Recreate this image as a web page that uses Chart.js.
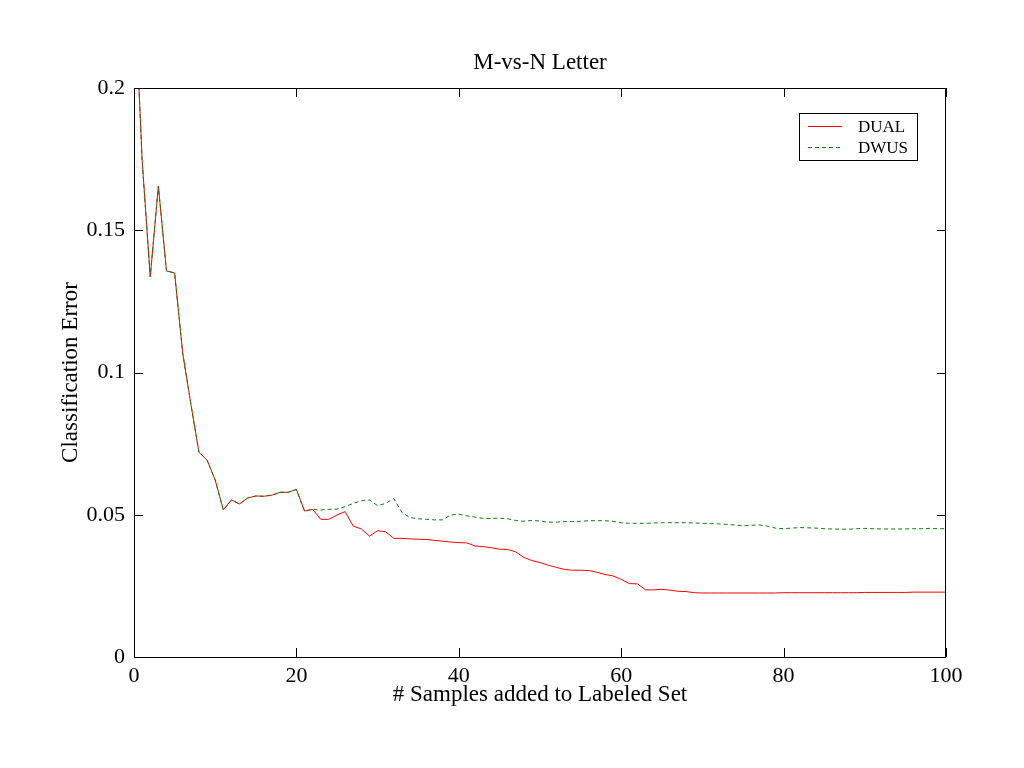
<!DOCTYPE html>
<html lang="en">
<head>
    <meta charset="UTF-8">
    <title>M-vs-N Letter</title>
    <script src="https://cdn.jsdelivr.net/npm/chart.js"></script>
    <style>
        body { margin: 0; background: #fff; }
        #wrap { width: 1024px; height: 768px; }
    </style>
</head>
<body>
    <div id="wrap"><canvas id="grafico" width="1024" height="768"></canvas></div>

    <script>
        // Datos
        const samples = [0,1,2,3,4,5,6,7,8,9,10,11,12,13,14,15,16,17,18,19,20,
            21,22,23,24,25,26,27,28,29,30,31,32,33,34,35,36,37,38,39,40,
            41,42,43,44,45,46,47,48,49,50,51,52,53,54,55,56,57,58,59,60,
            61,62,63,64,65,66,67,68,69,70,71,72,73,74,75,76,77,78,79,80,
            81,82,83,84,85,86,87,88,89,90,91,92,93,94,95,96,97,98,99,100];

        const dual = [0.24,0.1747,0.1336,0.1655,0.1357,0.135,0.1068,0.089,0.072,0.0692,0.0622,
            0.0517,0.0552,0.0538,0.0559,0.0566,0.0565,0.0569,0.0579,0.0579,0.0589,
            0.0513,0.0519,0.0484,0.0484,0.0499,0.0511,0.046,0.045,0.0425,0.0444,
            0.044,0.0417,0.0417,0.0415,0.0414,0.0413,0.041,0.0407,0.0404,0.0402,
            0.0401,0.039,0.0388,0.0384,0.0379,0.0378,0.037,0.035,0.0339,0.0332,
            0.0323,0.0315,0.0308,0.0305,0.0305,0.0304,0.0298,0.029,0.0285,0.0273,
            0.0258,0.0257,0.0236,0.0236,0.0238,0.0235,0.0231,0.023,0.0226,0.0225,
            0.0225,0.0225,0.0225,0.0225,0.0225,0.0225,0.0225,0.0225,0.0225,0.0226,
            0.0226,0.0226,0.0226,0.0226,0.0226,0.0226,0.0226,0.0226,0.0226,0.0227,
            0.0227,0.0227,0.0227,0.0227,0.0227,0.0228,0.0228,0.0228,0.0228,0.0228];

        const dwus = [0.24,0.1747,0.1336,0.1655,0.1357,0.135,0.1068,0.089,0.072,0.0692,0.0622,
            0.0517,0.0552,0.0538,0.0559,0.0566,0.0565,0.0569,0.0579,0.0579,0.0589,
            0.0513,0.0519,0.0517,0.0519,0.052,0.0528,0.054,0.0549,0.0552,0.0532,
            0.054,0.0557,0.0508,0.049,0.0486,0.0484,0.0482,0.0482,0.0499,0.0502,
            0.0496,0.0492,0.0487,0.0487,0.0488,0.0486,0.048,0.0477,0.048,0.0478,
            0.0474,0.0474,0.0476,0.0476,0.0477,0.0479,0.0479,0.0479,0.0477,0.0472,
            0.047,0.047,0.047,0.0471,0.0472,0.0472,0.0472,0.0472,0.0471,0.047,
            0.0469,0.0468,0.0466,0.0464,0.0461,0.0463,0.0464,0.046,0.0453,0.0451,
            0.0453,0.0455,0.0454,0.0453,0.0451,0.045,0.0449,0.0449,0.0451,0.0452,
            0.0451,0.045,0.045,0.045,0.045,0.0451,0.0451,0.0452,0.0451,0.0451];

        const xTicks = [0, 20, 40, 60, 80, 100];
        const yTicks = [0, 0.05, 0.1, 0.15, 0.2];

        const FONT = "'Liberation Serif', 'Times New Roman', serif";

        // Marco, marcas hacia dentro y leyenda dentro del area
        const marcoPlugin = {
            id: 'marco',
            afterDraw(chart) {
                const { ctx, chartArea: a, scales } = chart;
                ctx.save();
                ctx.strokeStyle = '#000';
                ctx.lineWidth = 1;
                ctx.strokeRect(a.left + 0.5, a.top + 0.5, a.right - a.left - 1, a.bottom - a.top);

                const len = 9;
                ctx.beginPath();
                xTicks.forEach(v => {
                    const px = Math.round(scales.x.getPixelForValue(v)) + 0.5;
                    ctx.moveTo(px, a.bottom); ctx.lineTo(px, a.bottom - len);
                    ctx.moveTo(px, a.top); ctx.lineTo(px, a.top + len);
                });
                yTicks.forEach(v => {
                    const py = Math.round(scales.y.getPixelForValue(v)) + 0.5;
                    ctx.moveTo(a.left, py); ctx.lineTo(a.left + len, py);
                    ctx.moveTo(a.right, py); ctx.lineTo(a.right - len, py);
                });
                ctx.stroke();

                // leyenda
                const bx = a.right - 147, by = a.top + 25, bw = 118, bh = 47;
                ctx.fillStyle = '#fff';
                ctx.fillRect(bx, by, bw, bh);
                ctx.strokeRect(bx + 0.5, by + 0.5, bw, bh);
                ctx.font = '17px ' + FONT;
                ctx.textBaseline = 'middle';
                chart.data.datasets.forEach((ds, i) => {
                    const y = by + 13 + i * 21 + 0.5;
                    ctx.strokeStyle = ds.borderColor;
                    ctx.setLineDash(ds.borderDash || []);
                    ctx.beginPath();
                    ctx.moveTo(bx + 9, y); ctx.lineTo(bx + 43, y);
                    ctx.stroke();
                    ctx.setLineDash([]);
                    ctx.fillStyle = '#000';
                    ctx.fillText(ds.label, bx + 59, y + 1);
                });
                ctx.restore();
            }
        };

        const ctx = document.getElementById('grafico').getContext('2d');
        new Chart(ctx, {
            type: 'line',
            data: {
                datasets: [{
                    label: 'DUAL',
                    data: samples.map((s, i) => ({ x: s, y: dual[i] })),
                    borderColor: '#ff0000',
                    borderWidth: 1,
                    pointRadius: 0,
                    tension: 0,
                    clip: 0,
                    order: 2
                },
                {
                    label: 'DWUS',
                    data: samples.map((s, i) => ({ x: s, y: dwus[i] })),
                    borderColor: '#0a7d0a',
                    borderWidth: 1,
                    borderDash: [4, 3],
                    pointRadius: 0,
                    tension: 0,
                    clip: 0,
                    order: 1
                }]
            },
            options: {
                responsive: false,
                animation: false,
                layout: { padding: { left: 56, right: 0, top: 0, bottom: 0 } },
                plugins: {
                    legend: { display: false },
                    tooltip: { enabled: false },
                    title: {
                        display: true,
                        text: 'M-vs-N Letter',
                        color: '#000',
                        font: { family: FONT, size: 23, weight: 'normal' },
                        padding: { top: 49.2, bottom: 11.2 }
                    }
                },
                scales: {
                    x: {
                        type: 'linear',
                        min: 0,
                        max: 100,
                        afterFit(s) { s.height = 111; },
                        afterBuildTicks(s) { s.ticks = xTicks.map(v => ({ value: v })); },
                        grid: { display: false, drawTicks: false },
                        border: { display: false },
                        ticks: {
                            color: '#000',
                            padding: 6,
                            maxRotation: 0,
                            font: { family: FONT, size: 22 },
                            callback: v => String(v)
                        },
                        title: {
                            display: true,
                            text: '# Samples added to Labeled Set',
                            color: '#000',
                            font: { family: FONT, size: 23 },
                            padding: { top: 0, bottom: 59 }
                        }
                    },
                    y: {
                        type: 'linear',
                        min: 0,
                        max: 0.2,
                        afterFit(s) { s.width = 78; },
                        afterBuildTicks(s) { s.ticks = yTicks.map(v => ({ value: v })); },
                        grid: { display: false, drawTicks: false },
                        border: { display: false },
                        ticks: {
                            color: '#000',
                            padding: 9,
                            font: { family: FONT, size: 22 },
                            callback: v => String(+v.toFixed(2))
                        },
                        title: {
                            display: true,
                            text: 'Classification Error',
                            color: '#000',
                            font: { family: FONT, size: 23 },
                            padding: { top: 1.2, bottom: 0 }
                        }
                    },
                    // eje vacio a la derecha para centrar el titulo sobre el area
                    y2: {
                        type: 'linear',
                        position: 'right',
                        min: 0,
                        max: 0.2,
                        afterFit(s) { s.width = 78; },
                        grid: { display: false, drawTicks: false },
                        border: { display: false },
                        ticks: { display: false }
                    }
                }
            },
            plugins: [marcoPlugin]
        });
    </script>
</body>
</html>
